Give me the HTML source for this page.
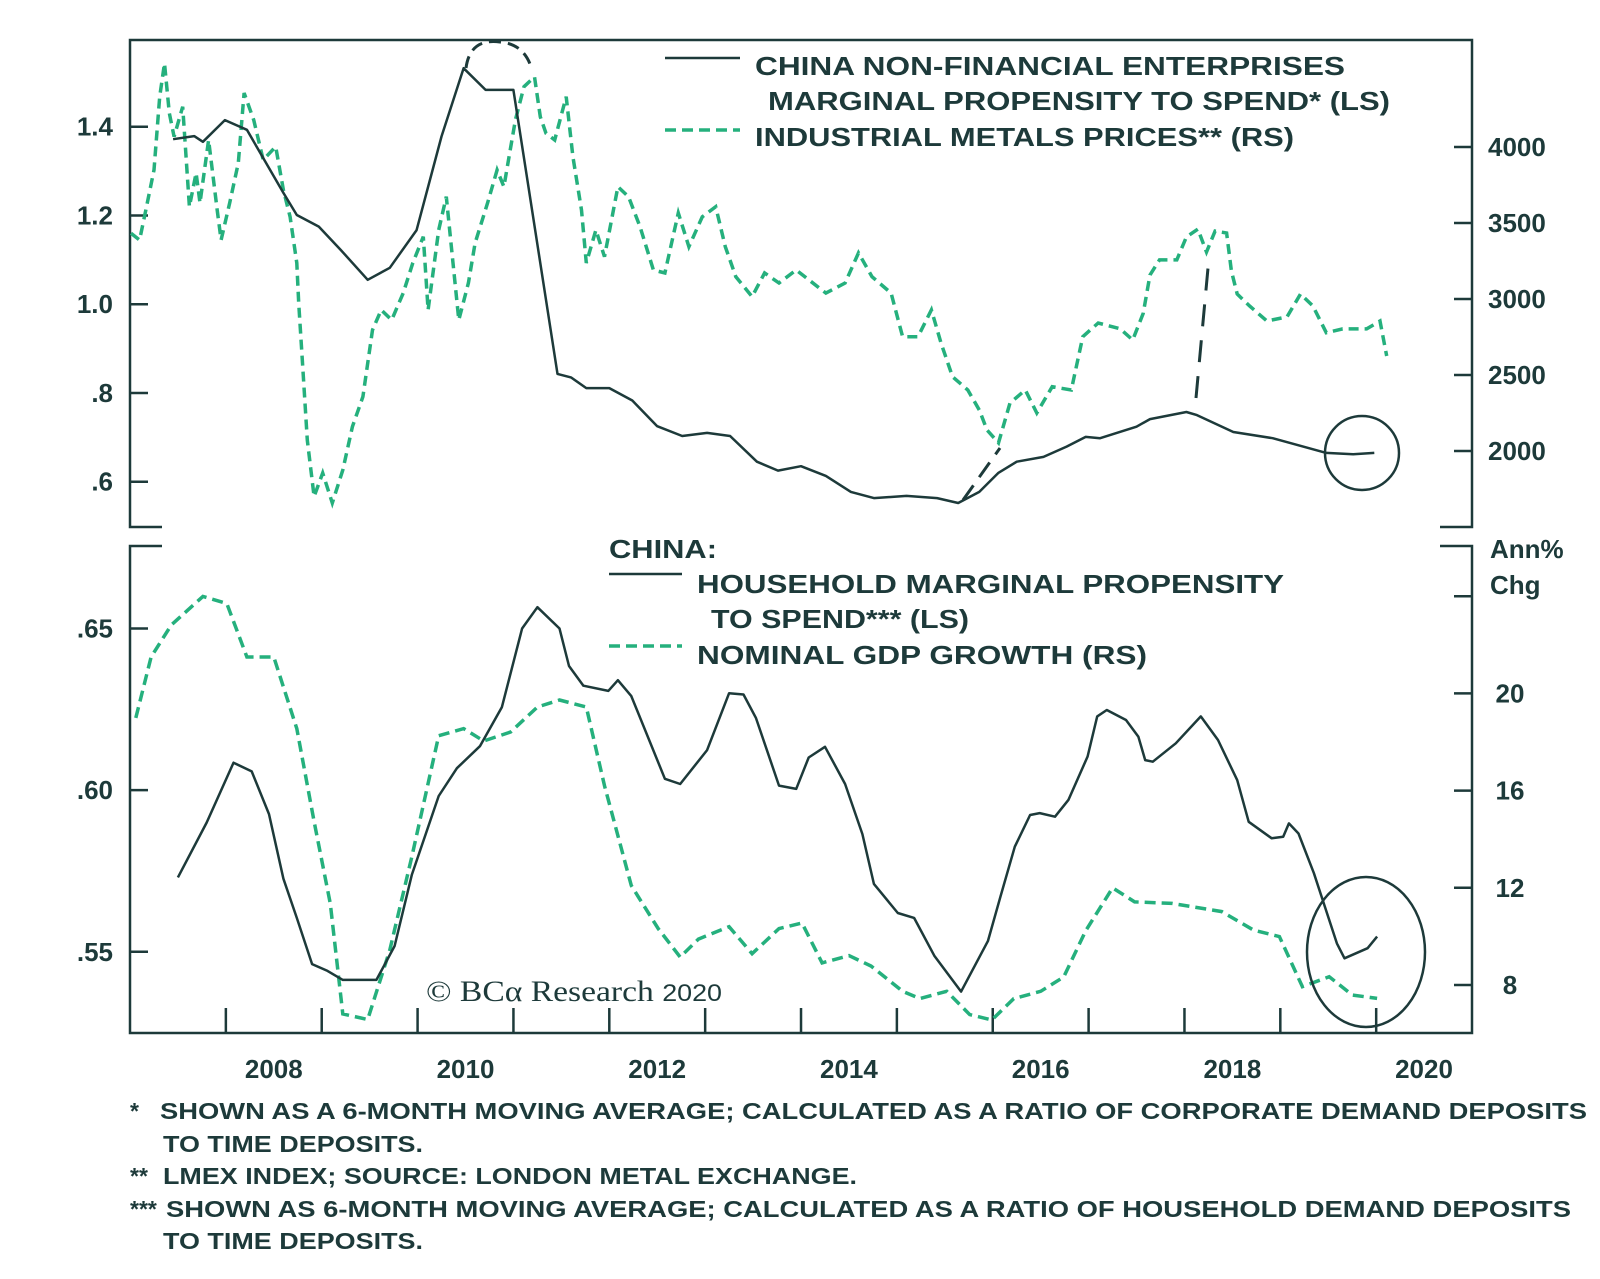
<!DOCTYPE html>
<html><head><meta charset="utf-8"><style>
html,body{margin:0;padding:0;background:#fff}
svg{display:block}
text{font-family:"Liberation Sans",sans-serif;font-weight:bold;fill:#1d3a3a}
</style></head><body>
<svg id="chart" width="1600" height="1279" viewBox="0 0 1600 1279" xmlns="http://www.w3.org/2000/svg">
<rect x="0" y="0" width="1600" height="1279" fill="#fff"/>
<g id="frame" stroke="#1d3a3a" stroke-width="2.5" fill="none">
<path d="M162,527 L130,527 L130,40 L1472,40 L1472,527 L1440,527"/>
<path d="M162,546 L130,546 L130,1033 L1472,1033 L1472,546 L1440,546"/>
</g>
<g id="marks"></g>
<g id="legend">
<line x1="665" y1="58" x2="740" y2="58" stroke="#1d3a3a" stroke-width="2.5"/>
<text x="755" y="75" font-size="26" textLength="590" lengthAdjust="spacingAndGlyphs">CHINA NON-FINANCIAL ENTERPRISES</text>
<text x="768" y="110" font-size="26" textLength="622" lengthAdjust="spacingAndGlyphs">MARGINAL PROPENSITY TO SPEND* (LS)</text>
<line x1="665" y1="130" x2="740" y2="130" stroke="#25b07d" stroke-width="3.5" stroke-dasharray="11,6"/>
<text x="755" y="146" font-size="26" textLength="539" lengthAdjust="spacingAndGlyphs">INDUSTRIAL METALS PRICES** (RS)</text>
<text x="609" y="558" font-size="26" textLength="108" lengthAdjust="spacingAndGlyphs">CHINA:</text>
<line x1="609" y1="574" x2="682" y2="574" stroke="#1d3a3a" stroke-width="2.5"/>
<text x="697" y="593" font-size="26" textLength="587" lengthAdjust="spacingAndGlyphs">HOUSEHOLD MARGINAL PROPENSITY</text>
<text x="711" y="628" font-size="26" textLength="258" lengthAdjust="spacingAndGlyphs">TO SPEND*** (LS)</text>
<line x1="609" y1="646" x2="682" y2="646" stroke="#25b07d" stroke-width="3.5" stroke-dasharray="11,6"/>
<text x="697" y="664" font-size="26" textLength="450" lengthAdjust="spacingAndGlyphs">NOMINAL GDP GROWTH (RS)</text>
<text x="1490" y="558" font-size="26">Ann%</text>
<text x="1490" y="594" font-size="26">Chg</text>
</g>
<text x="426" y="1001" font-size="30" textLength="296" lengthAdjust="spacingAndGlyphs" style="font-family:'Liberation Serif',serif;font-weight:normal">© BCα Research <tspan font-size="24" style="font-family:'Liberation Sans',sans-serif">2020</tspan></text>
<g id="footnotes" font-size="23">
<text x="130" y="1119">*</text>
<text x="160" y="1119" textLength="1427" lengthAdjust="spacingAndGlyphs">SHOWN AS A 6-MONTH MOVING AVERAGE; CALCULATED AS A RATIO OF CORPORATE DEMAND DEPOSITS</text>
<text x="163" y="1152" textLength="260" lengthAdjust="spacingAndGlyphs">TO TIME DEPOSITS.</text>
<text x="130" y="1184">**</text>
<text x="163" y="1184" textLength="694" lengthAdjust="spacingAndGlyphs">LMEX INDEX; SOURCE: LONDON METAL EXCHANGE.</text>
<text x="130" y="1217">***</text>
<text x="166" y="1217" textLength="1405" lengthAdjust="spacingAndGlyphs">SHOWN AS 6-MONTH MOVING AVERAGE; CALCULATED AS A RATIO OF HOUSEHOLD DEMAND DEPOSITS</text>
<text x="163" y="1249" textLength="260" lengthAdjust="spacingAndGlyphs">TO TIME DEPOSITS.</text>
</g>
</svg>
<script>
const xYears = [2008,2009,2010,2011,2012,2013,2014,2015,2016,2017,2018,2019,2020];
const xLabelYears = [2008,2010,2012,2014,2016,2018,2020];
const topLeftTicks = [0.6,0.8,1.0,1.2,1.4];
const topLeftLabels = ['.6','.8','1.0','1.2','1.4'];
const topRightTicks = [2000,2500,3000,3500,4000];
const topRightLabels = ['2000','2500','3000','3500','4000'];
const botLeftTicks = [0.55,0.60,0.65];
const botLeftLabels = ['.55','.60','.65'];
const botRightTicks = [8,12,16,20,24];
const botRightLabels = ['8','12','16','20',''];

const entT = [2007.45,2007.67,2007.76,2007.99,2008.22,2008.60,2008.74,2008.97,2009.20,2009.48,2009.71,2009.99,2010.25,2010.48,2010.71,2011.0,2011.46,2011.60,2011.76,2012.0,2012.24,2012.50,2012.76,2013.02,2013.26,2013.54,2013.76,2014.0,2014.26,2014.52,2014.76,2015.10,2015.42,2015.64,2015.86,2016.06,2016.25,2016.53,2016.77,2016.97,2017.12,2017.50,2017.64,2018.02,2018.13,2018.51,2018.92,2019.48,2019.76,2019.98];
const entV = [1.372,1.379,1.366,1.415,1.393,1.251,1.201,1.175,1.122,1.055,1.082,1.167,1.378,1.532,1.483,1.483,0.843,0.835,0.811,0.811,0.783,0.725,0.703,0.710,0.703,0.645,0.625,0.635,0.613,0.577,0.563,0.568,0.563,0.552,0.577,0.620,0.645,0.656,0.679,0.701,0.698,0.724,0.741,0.757,0.750,0.712,0.698,0.665,0.662,0.665];

const metT = [2007.01,2007.10,2007.18,2007.25,2007.31,2007.36,2007.41,2007.46,2007.55,2007.62,2007.69,2007.73,2007.82,2007.91,2007.95,2008.04,2008.13,2008.19,2008.29,2008.39,2008.52,2008.60,2008.67,2008.74,2008.76,2008.80,2008.85,2008.92,2009.01,2009.11,2009.22,2009.32,2009.43,2009.53,2009.62,2009.73,2009.85,2009.95,2010.06,2010.11,2010.22,2010.30,2010.37,2010.43,2010.53,2010.60,2010.73,2010.83,2010.90,2011.02,2011.11,2011.22,2011.28,2011.34,2011.43,2011.55,2011.62,2011.71,2011.76,2011.86,2011.95,2012.09,2012.20,2012.32,2012.46,2012.58,2012.72,2012.83,2012.97,2013.11,2013.21,2013.32,2013.49,2013.62,2013.77,2013.95,2014.26,2014.46,2014.60,2014.74,2014.94,2015.06,2015.22,2015.36,2015.46,2015.58,2015.74,2015.86,2015.94,2016.06,2016.18,2016.34,2016.46,2016.62,2016.82,2016.94,2017.10,2017.33,2017.46,2017.57,2017.64,2017.74,2017.92,2018.02,2018.14,2018.23,2018.32,2018.44,2018.49,2018.55,2018.68,2018.86,2019.07,2019.21,2019.34,2019.48,2019.65,2019.90,2020.04,2020.11];
const metV = [3432,3388,3632,3849,4331,4551,4224,4068,4265,3607,3829,3632,4046,3585,3388,3632,3895,4355,4178,3915,4002,3717,3541,3237,2974,2579,2072,1700,1855,1658,1875,2160,2357,2796,2928,2862,3039,3237,3410,2928,3454,3673,3237,2862,3105,3368,3632,3849,3739,4178,4397,4462,4199,4090,4046,4331,3936,3585,3237,3454,3278,3739,3673,3476,3191,3171,3566,3344,3541,3607,3344,3147,3015,3171,3105,3191,3039,3105,3303,3147,3039,2752,2752,2928,2711,2489,2401,2270,2138,2053,2316,2401,2250,2423,2401,2752,2842,2804,2730,2905,3158,3257,3257,3408,3460,3309,3447,3434,3184,3033,2954,2855,2882,3033,2954,2778,2803,2803,2855,2625];

const hhT = [2007.50,2007.80,2008.08,2008.27,2008.45,2008.60,2008.74,2008.90,2009.06,2009.22,2009.57,2009.76,2009.94,2010.22,2010.41,2010.65,2010.88,2011.09,2011.25,2011.48,2011.58,2011.73,2011.99,2012.09,2012.23,2012.58,2012.74,2013.02,2013.25,2013.40,2013.53,2013.77,2013.95,2014.08,2014.25,2014.46,2014.64,2014.76,2015.01,2015.18,2015.39,2015.67,2015.95,2016.08,2016.23,2016.39,2016.49,2016.65,2016.79,2016.99,2017.09,2017.19,2017.39,2017.52,2017.59,2017.67,2017.91,2018.17,2018.35,2018.55,2018.67,2018.91,2019.03,2019.09,2019.19,2019.35,2019.59,2019.67,2019.91,2020.01];
const hhV = [0.573,0.590,0.6085,0.6058,0.5926,0.5726,0.5605,0.5462,0.5441,0.5413,0.5413,0.5518,0.5738,0.5982,0.6068,0.6136,0.6257,0.6500,0.6566,0.6500,0.6384,0.6323,0.6307,0.6340,0.6291,0.6035,0.6019,0.6124,0.6300,0.6296,0.6223,0.6014,0.6004,0.6101,0.6134,0.6019,0.5864,0.5710,0.5620,0.5605,0.5488,0.5377,0.5533,0.567,0.5825,0.5923,0.5929,0.5918,0.5970,0.6104,0.6228,0.6248,0.6217,0.6165,0.6093,0.6088,0.6145,0.6228,0.6155,0.6031,0.5902,0.5851,0.5856,0.5897,0.5866,0.5743,0.5526,0.5480,0.5511,0.5547];

const gdpT = [2007.06,2007.22,2007.43,2007.76,2008.01,2008.22,2008.50,2008.74,2008.92,2009.09,2009.22,2009.48,2009.71,2009.94,2010.22,2010.48,2010.69,2010.97,2011.25,2011.48,2011.76,2011.95,2012.23,2012.51,2012.74,2012.93,2013.25,2013.49,2013.77,2014.01,2014.22,2014.50,2014.73,2015.06,2015.24,2015.52,2015.76,2015.99,2016.22,2016.50,2016.74,2016.97,2017.25,2017.48,2017.87,2018.39,2018.72,2018.99,2019.23,2019.51,2019.75,2020.01];
const gdpV = [18.99,21.50,22.81,23.99,23.70,21.50,21.50,18.55,14.73,11.35,6.81,6.58,9.44,13.27,18.26,18.55,18.04,18.41,19.44,19.73,19.44,16.20,12.09,10.32,9.15,9.89,10.40,9.29,10.32,10.55,8.91,9.21,8.78,7.74,7.44,7.74,6.78,6.56,7.44,7.74,8.33,10.23,12.00,11.42,11.36,11.02,10.26,9.99,7.93,8.34,7.59,7.45];

const NS = 'http://www.w3.org/2000/svg';
const x = t => 130 + (t - 2007) * 95.86;
const yTL = v => 481.7 - (v - 0.6) * 443.7;
const yTR = v => 451 - (v - 2000) / 6.579;
const yBL = v => 951.8 - (v - 0.55) * 3233;
const yBR = v => 985 - (v - 8) * 24.3;
const marks = document.getElementById('marks');
const DARK = '#1d3a3a', GREEN = '#25b07d';

function mk(tag, attrs, parent) {
  const el = document.createElementNS(NS, tag);
  for (const k in attrs) el.setAttribute(k, attrs[k]);
  (parent || marks).appendChild(el);
  return el;
}
function pathFrom(ts, vs, yf) {
  return ts.map((t, i) => (i ? 'L' : 'M') + x(t).toFixed(1) + ',' + yf(vs[i]).toFixed(1)).join(' ');
}

topLeftTicks.forEach((v, i) => {
  const l = mk('line', {x1: 130, x2: 148, y1: yTL(v), y2: yTL(v), stroke: DARK, 'stroke-width': 2.5});
  
  
  const tx = mk('text', {x: 113, y: yTL(v) + 9, 'font-size': 26, 'text-anchor': 'end'});
  tx.textContent = topLeftLabels[i];
  
  
});
topRightTicks.forEach((v, i) => {
  const l = mk('line', {x1: 1454, x2: 1472, y1: yTR(v), y2: yTR(v), stroke: DARK, 'stroke-width': 2.5});
  
  
  const tx = mk('text', {x: 1488, y: yTR(v) + 9, 'font-size': 26});
  tx.textContent = topRightLabels[i];
  
  
});
botLeftTicks.forEach((v, i) => {
  const l = mk('line', {x1: 130, x2: 148, y1: yBL(v), y2: yBL(v), stroke: DARK, 'stroke-width': 2.5});
  
  
  const tx = mk('text', {x: 113, y: yBL(v) + 9, 'font-size': 26, 'text-anchor': 'end'});
  tx.textContent = botLeftLabels[i];
  
  
});
botRightTicks.forEach((v, i) => {
  const l = mk('line', {x1: 1454, x2: 1472, y1: yBR(v), y2: yBR(v), stroke: DARK, 'stroke-width': 2.5});
  
  
  const tx = mk('text', {x: 1510, y: yBR(v) + 9, 'font-size': 26, 'text-anchor': 'middle'});
  tx.textContent = botRightLabels[i];
  
  
});
xYears.forEach(yr => {
  const l = mk('line', {x1: x(yr), x2: x(yr), y1: 1008, y2: 1033, stroke: DARK, 'stroke-width': 2.5});
  
  
});
xLabelYears.forEach(yr => {
  const tx = mk('text', {x: Math.min(x(yr + 0.5), 1424), y: 1078, 'font-size': 26, 'text-anchor': 'middle'});
  tx.textContent = String(yr);
  
  
});

const s1 = mk('path', {d: pathFrom(metT, metV, yTR), fill: 'none', stroke: GREEN, 'stroke-width': 3.5, 'stroke-dasharray': '10,6'});


const s2 = mk('path', {d: pathFrom(entT, entV, yTL), fill: 'none', stroke: DARK, 'stroke-width': 2.5, 'stroke-linejoin': 'round'});


const s3 = mk('path', {d: pathFrom(gdpT, gdpV, yBR), fill: 'none', stroke: GREEN, 'stroke-width': 3.5, 'stroke-dasharray': '11,6'});


const s4 = mk('path', {d: pathFrom(hhT, hhV, yBL), fill: 'none', stroke: DARK, 'stroke-width': 2.5, 'stroke-linejoin': 'round'});



const a1 = mk('path', {d: 'M466,68 Q470,38 500,42 Q525,44 532,70', fill: 'none', stroke: DARK, 'stroke-width': 3, 'stroke-dasharray': '12,7'});


const a2 = mk('line', {x1: 963, y1: 500, x2: 1000, y2: 448, stroke: DARK, 'stroke-width': 3, 'stroke-dasharray': '18,10'});


const a3 = mk('line', {x1: 1196, y1: 398, x2: 1208, y2: 268, stroke: DARK, 'stroke-width': 3, 'stroke-dasharray': '22,14'});


const c1 = mk('circle', {cx: 1362, cy: 453, r: 37, fill: 'none', stroke: DARK, 'stroke-width': 2.5});


const c2 = mk('ellipse', {cx: 1366, cy: 952, rx: 59, ry: 75, fill: 'none', stroke: DARK, 'stroke-width': 2.5});


</script>
</body></html>
